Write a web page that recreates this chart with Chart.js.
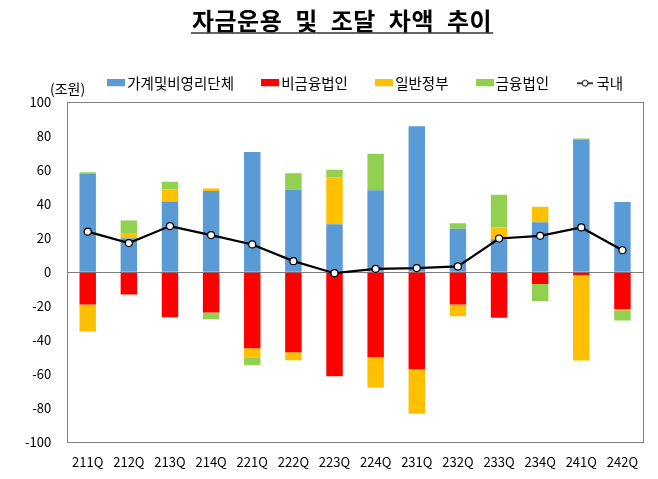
<!DOCTYPE html>
<html>
<head>
<meta charset="utf-8">
<script src="https://cdn.jsdelivr.net/npm/chart.js@4.4.1/dist/chart.umd.min.js"></script>
<style>
  html, body { margin: 0; padding: 0; background: #fff; }
</style>
</head>
<body>
<canvas id="flowChart" width="658" height="479"></canvas>
<script>
// 분기
const quarters = ["211Q", "212Q", "213Q", "214Q", "221Q", "222Q", "223Q",
                  "224Q", "231Q", "232Q", "233Q", "234Q", "241Q", "242Q"];

// 부문별 자금운용-조달 차액 (조원)
const household  = [58.0, 20.0, 41.6, 47.7, 70.6, 48.6, 28.2, 48.2, 85.7, 25.5, 19.4, 29.4, 77.7, 41.2];
const nonFinCorp = [-19.0, -13.1, -26.5, -23.7, -44.7, -47.1, -61.2, -49.8, -57.0, -19.0, -26.8, -7.0, -1.8, -21.8];
const government = [-15.9, 2.6, 7.2, 1.5, -5.3, -4.7, 27.5, -18.0, -26.1, -6.9, 6.9, 9.1, -50.1, -0.7];
const finCorp    = [0.7, 7.8, 4.4, -3.9, -4.5, 9.5, 4.5, 21.4, 0, 3.3, 19.2, -10.0, 0.8, -5.9];
const domestic   = [23.8, 17.1, 27.1, 21.8, 16.3, 6.5, -0.6, 2.0, 2.4, 3.4, 19.8, 21.4, 26.3, 12.9];

// 축 범위
const yMin = -100;
const yMax = 100;
const yStep = 20;

const FONT = "'Noto Sans CJK KR', 'Noto Sans', sans-serif";
const AXIS_GRAY = "#7f7f7f";

function boxImage(color) {
  const c = document.createElement("canvas");
  c.width = 18;
  c.height = 8;
  const g = c.getContext("2d");
  g.fillStyle = color;
  g.fillRect(0, 0, 18, 7);
  return c;
}

function lineImage() {
  const c = document.createElement("canvas");
  c.width = 16;
  c.height = 10;
  const g = c.getContext("2d");
  g.strokeStyle = "#000";
  g.lineWidth = 1.5;
  g.beginPath();
  g.moveTo(0, 5);
  g.lineTo(16, 5);
  g.stroke();
  g.beginPath();
  g.arc(8, 5, 3, 0, Math.PI * 2);
  g.fillStyle = "#fff";
  g.fill();
  g.lineWidth = 1;
  g.stroke();
  return c;
}

// 제목, 단위, 테두리
const decorations = {
  id: "decorations",
  beforeInit(chart) {
    const legend = chart.legend;
    const origFit = legend.fit;
    legend.fit = function () {
      this.maxWidth = 1000; // keep all five items on one row
      origFit.call(this);
      this.height = 58;
    };
  },
  afterLayout(chart) {
    chart.legend.left = 80;
    chart.legend.right = 1000;
  },
  afterDraw(chart) {
    const ctx = chart.ctx;
    const area = chart.chartArea;
    ctx.save();

    // plot frame
    ctx.strokeStyle = AXIS_GRAY;
    ctx.lineWidth = 1;
    ctx.strokeRect(Math.round(area.left) + 0.5, Math.round(area.top) + 0.5,
                   Math.round(area.right - area.left), Math.round(area.bottom - area.top));

    // title
    ctx.fillStyle = "#000";
    ctx.font = "bold 24px " + FONT;
    ctx.letterSpacing = "0.5px";
    ctx.wordSpacing = "7px";
    ctx.textAlign = "center";
    ctx.textBaseline = "middle";
    const title = "자금운용 및 조달 차액 추이";
    ctx.fillText(title, 342, 21);
    const w = ctx.measureText(title).width;
    ctx.letterSpacing = "0px";
    ctx.wordSpacing = "0px";
    ctx.strokeStyle = "#333";
    ctx.lineWidth = 1.5;
    ctx.beginPath();
    ctx.moveTo(342 - w / 2 - 1, 33);
    ctx.lineTo(342 + w / 2 + 1, 33);
    ctx.stroke();

    // unit
    ctx.font = "14px " + FONT;
    ctx.textAlign = "left";
    ctx.fillText("(조원)", 50, 89);
    ctx.restore();
  }
};

const seriesColors = ["#5B9BD5", "#FF0000", "#FFC000", "#92D050"];

const ctx = document.getElementById("flowChart").getContext("2d");
new Chart(ctx, {
  type: "bar",
  data: {
    labels: quarters,
    datasets: [
      { label: "가계및비영리단체", data: household, backgroundColor: seriesColors[0], order: 1 },
      { label: "비금융법인", data: nonFinCorp, backgroundColor: seriesColors[1], order: 1 },
      { label: "일반정부", data: government, backgroundColor: seriesColors[2], order: 1 },
      { label: "금융법인", data: finCorp, backgroundColor: seriesColors[3], order: 1 },
      {
        type: "line",
        label: "국내",
        data: domestic,
        stack: "total",
        order: 0,
        borderColor: "#000",
        borderWidth: 2.25,
        pointRadius: 3.5,
        pointBackgroundColor: "#fff",
        pointBorderColor: "#000",
        pointBorderWidth: 1.2,
        tension: 0,
      },
    ],
  },
  options: {
    responsive: false,
    animation: false,
    layout: { padding: { left: 9, right: 15, top: 44, bottom: -3 } },
    datasets: {
      bar: { categoryPercentage: 1.0, barPercentage: 0.4 },
    },
    plugins: {
      tooltip: { enabled: false },
      legend: {
        position: "top",
        align: "start",
        labels: {
          usePointStyle: true,
          pointStyleWidth: 8,
          padding: 32,
          color: "#000",
          font: { family: FONT, size: 14.5 },
          generateLabels(chart) {
            return chart.data.datasets.map((ds, i) => ({
              text: ds.label,
              datasetIndex: i,
              pointStyle: i < 4 ? boxImage(seriesColors[i]) : lineImage(),
              fillStyle: "transparent",
              strokeStyle: "transparent",
              lineWidth: 0,
              fontColor: "#000",
              hidden: false,
            }));
          },
        },
      },
    },
    scales: {
      x: {
        stacked: true,
        grid: { display: false, drawTicks: false },
        border: { display: false },
        ticks: {
          color: "#000",
          font: { family: FONT, size: 13 },
          padding: 12,
          maxRotation: 0,
          autoSkip: false,
        },
      },
      y: {
        stacked: true,
        min: yMin,
        max: yMax,
        border: { display: false },
        grid: {
          drawTicks: false,
          color: (c) => (c.tick && c.tick.value === 0 ? AXIS_GRAY : "rgba(0,0,0,0)"),
        },
        ticks: {
          stepSize: yStep,
          color: "#000",
          padding: 16,
          font: { family: FONT, size: 13 },
        },
      },
    },
  },
  plugins: [decorations],
});
</script>
</body>
</html>
